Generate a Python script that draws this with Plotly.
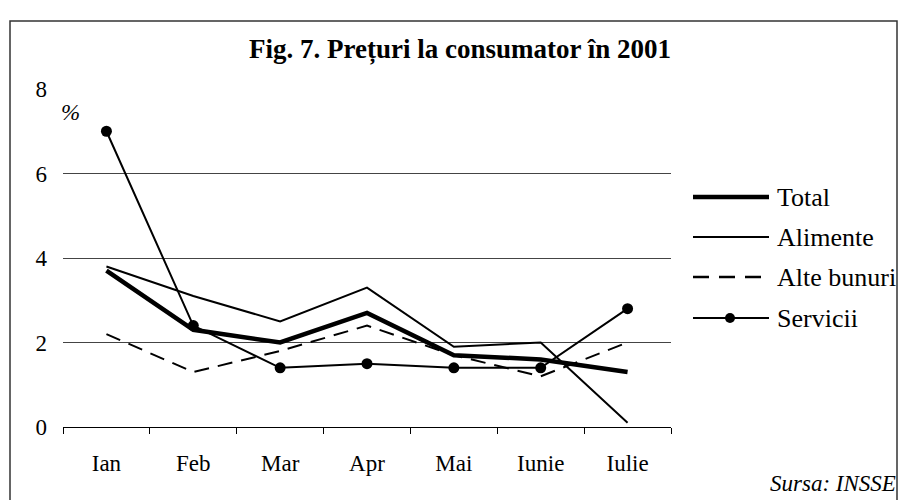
import plotly.graph_objects as go

months = ["Ian", "Feb", "Mar", "Apr", "Mai", "Iunie", "Iulie"]
total = [3.7, 2.3, 2.0, 2.7, 1.7, 1.6, 1.3]
alimente = [3.8, 3.1, 2.5, 3.3, 1.9, 2.0, 0.1]
alte_bunuri = [2.2, 1.3, 1.8, 2.4, 1.7, 1.2, 2.0]
servicii = [7.0, 2.4, 1.4, 1.5, 1.4, 1.4, 2.8]
y_ticks = [0, 2, 4, 6, 8]

FONT = "Liberation Serif"
W, H = 899, 500

fig = go.Figure()
fig.add_trace(go.Scatter(x=months, y=alte_bunuri, mode="lines", name="Alte bunuri",
                         line=dict(color="black", width=2, dash="15px,9px")))
fig.add_trace(go.Scatter(x=months, y=alimente, mode="lines", name="Alimente",
                         line=dict(color="black", width=2)))
fig.add_trace(go.Scatter(x=months, y=total, mode="lines", name="Total",
                         line=dict(color="black", width=4.5)))
fig.add_trace(go.Scatter(x=months, y=servicii, mode="lines+markers", name="Servicii",
                         line=dict(color="black", width=2),
                         marker=dict(color="black", size=11)))

L, R, T, B = 63, 228, 89, 73
PW, PH = W - L - R, H - T - B

# convert window pixel coordinates to paper coordinates of the plot area
def px(x):
    return (x - L) / PW

def py(y):
    return (H - B - y) / PH

shapes = [
    dict(type="rect", xref="paper", yref="paper", x0=px(10), x1=px(897), y0=py(510), y1=py(21),
         line=dict(color="#333", width=1.5)),
]
annotations = [
    dict(text="<b>Fig. 7. Prețuri la consumator în 2001</b>", xref="paper", yref="paper",
         x=px(460), y=py(49), showarrow=False, font=dict(family=FONT, size=27, color="black"),
         xanchor="center", yanchor="middle"),
    dict(text="<i>%</i>", xref="paper", yref="paper", x=px(59), y=py(112), showarrow=False,
         font=dict(family=FONT, size=23, color="black"), xanchor="left", yanchor="middle"),
    dict(text="<i>Sursa: INSSE</i>", xref="paper", yref="paper", x=px(898), y=py(483), showarrow=False,
         font=dict(family=FONT, size=23, color="black"), xanchor="right", yanchor="middle"),
]

legend_items = [("Total", 197, 4.5, None, False), ("Alimente", 237, 2, None, False),
                ("Alte bunuri", 277, 2.5, "16px,10px", False), ("Servicii", 318, 2, None, True)]
for name, yy, w, dash, dot in legend_items:
    ln = dict(color="black", width=w)
    if dash:
        ln["dash"] = dash
    shapes.append(dict(type="line", xref="paper", yref="paper", x0=px(693), x1=px(769),
                       y0=py(yy), y1=py(yy), line=ln))
    if dot:
        shapes.append(dict(type="circle", xref="paper", yref="paper", x0=px(725), x1=px(735),
                           y0=py(yy + 5), y1=py(yy - 5), fillcolor="black",
                           line=dict(color="black", width=0)))
    annotations.append(dict(text=name, xref="paper", yref="paper", x=px(775), y=py(yy), showarrow=False,
                            font=dict(family=FONT, size=26, color="black"),
                            xanchor="left", yanchor="middle"))

fig.update_layout(
    width=W, height=H,
    margin=dict(l=L, r=R, t=T, b=B),
    paper_bgcolor="white", plot_bgcolor="white",
    showlegend=False,
    font=dict(family=FONT, size=23, color="black"),
    shapes=shapes, annotations=annotations,
)
fig.update_xaxes(type="category", categoryorder="array", categoryarray=months,
                 range=[-0.5, len(months) - 0.5],
                 tickson="boundaries", ticks="outside", ticklen=6, tickcolor="black",
                 showline=True, linecolor="black", linewidth=1, showgrid=False,
                 tickfont=dict(family=FONT, size=23, color="black"), ticklabelstandoff=15)
fig.update_yaxes(range=[0, 8], tickvals=y_ticks, showgrid=True, gridcolor="#444", gridwidth=1,
                 zeroline=False, showline=False, ticks="",
                 tickfont=dict(family=FONT, size=23, color="black"), ticklabelstandoff=15)

fig.write_html("out.html", config={"displayModeBar": False},
               post_script="document.body.style.margin='0px';")
